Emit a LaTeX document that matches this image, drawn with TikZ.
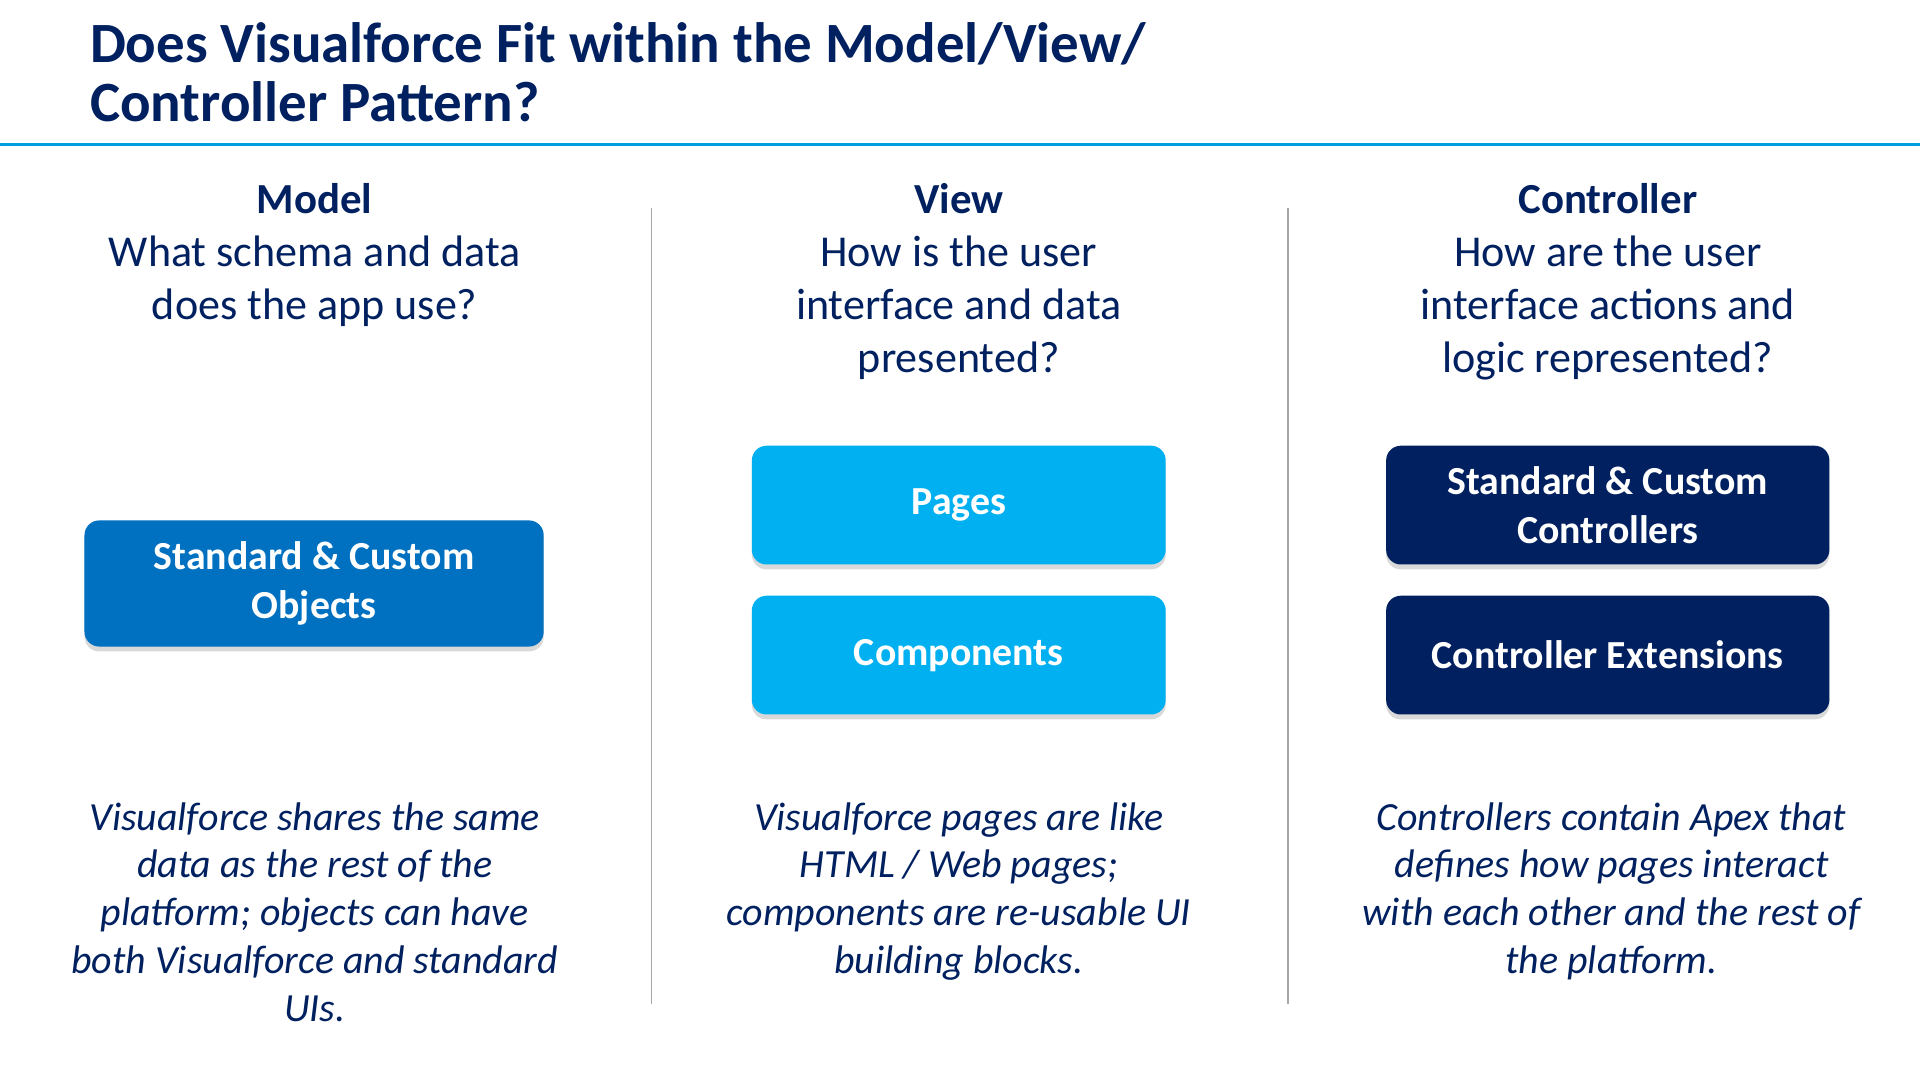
\documentclass[tikz,border=0pt]{standalone}
\usepackage{fontspec}
\setmainfont{Carlito}
\usetikzlibrary{shadows}
\definecolor{navy}{RGB}{0,32,96}
\definecolor{lblue}{RGB}{0,176,240}
\definecolor{mblue}{RGB}{0,112,192}
\definecolor{rule}{RGB}{0,160,224}
\begin{document}
\begin{tikzpicture}[x=1pt,y=-1pt,
  hdr/.style={text=navy,font=\fontsize{35}{43}\selectfont\bfseries,anchor=base},
  q/.style={text=navy,font=\fontsize{36}{43}\selectfont,align=center,anchor=base},
  it/.style={text=navy,font=\fontsize{32.6}{39}\selectfont\itshape,align=center,anchor=base},
  box/.style={rounded corners=12pt,draw=none,text=white,font=\fontsize{32.5}{40}\selectfont\bfseries,align=center,
    drop shadow={shadow xshift=0pt,shadow yshift=-4pt,opacity=0.3}},
  sep/.style={draw=gray!70,line width=1.5pt}]
\useasboundingbox (0,0) rectangle (1568,882);
\node[anchor=base west,text=navy,font=\fontsize{46.5}{48}\selectfont\bfseries,align=left] (title) at (70,99) {Does Visualforce Fit within the Model/View/\\Controller Pattern?};
\coordinate (l1) at (0,118); \coordinate (l2) at (1568,118);
\draw[rule,line width=3pt] (l1) -- (l2);
\coordinate (s1a) at (532,170); \coordinate (s1b) at (532,820);
\coordinate (s2a) at (1052,170); \coordinate (s2b) at (1052,820);
\draw[sep] (s1a) -- (s1b);
\draw[sep] (s2a) -- (s2b);
% headers
\node[hdr] (hm) at (257,174) {Model};
\node[hdr] (hv) at (783,174) {View};
\node[hdr] (hc) at (1313,174) {Controller};
\node[q] (qm) at (257,261) {What schema and data\\does the app use?};
\node[q] (qv) at (783,304) {How is the user\\interface and data\\presented?};
\node[q] (qc) at (1313,304) {How are the user\\interface actions and\\logic represented?};
% boxes
\node[box,fill=mblue,minimum width=375pt,minimum height=103pt] (obj) at (256.5,476.5) {Standard \& Custom\\Objects};
\node[box,fill=lblue,minimum width=338pt,minimum height=97pt] (pages) at (783,412.5) {Pages};
\node[box,fill=lblue,minimum width=338pt,minimum height=97pt] (comp) at (783,535) {Components};
\node[box,fill=navy,minimum width=362pt,minimum height=97pt] (ctrl) at (1313,412.5) {Standard \& Custom\\Controllers};
\node[box,fill=navy,minimum width=362pt,minimum height=97pt] (ext) at (1313,535) {Controller Extensions};
% italic text
\node[it] (tm) at (257,834) {Visualforce shares the same\\data as the rest of the\\platform; objects can have\\both Visualforce and standard\\UIs.};
\node[it] (tv) at (783,795) {Visualforce pages are like\\HTML / Web pages;\\components are re-usable UI\\building blocks.};
\node[it] (tc) at (1316,795) {Controllers contain Apex that\\defines how pages interact\\with each other and the rest of\\the platform.};
\end{tikzpicture}
\end{document}
